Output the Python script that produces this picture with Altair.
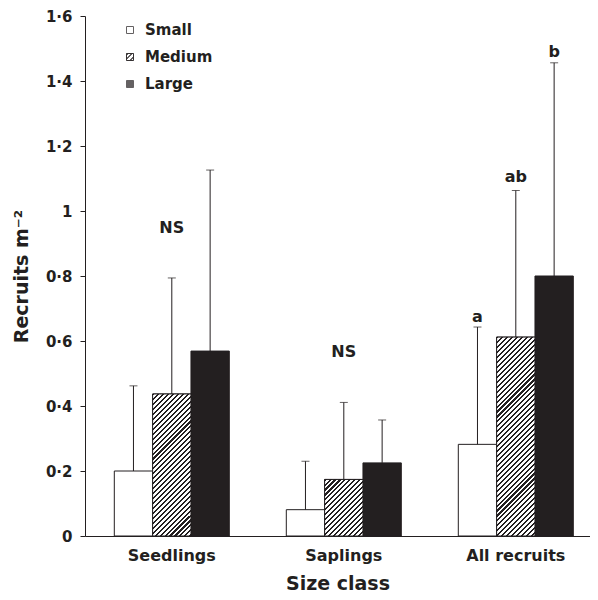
import math
import altair as alt
import pandas as pd

# ---------------- data ----------------
groups = ["Seedlings", "Saplings", "All recruits"]
sizes = ["Small", "Medium", "Large"]

small_mean = [0.200, 0.081, 0.282]
medium_mean = [0.437, 0.174, 0.612]
large_mean = [0.569, 0.225, 0.800]

small_upper = [0.462, 0.230, 0.643]
medium_upper = [0.794, 0.411, 1.063]
large_upper = [1.126, 0.357, 1.456]

ann_group = ["Seedlings", "Saplings", "All recruits", "All recruits", "All recruits"]
ann_size = ["Medium", "Medium", "Small", "Medium", "Large"]
ann_y = [0.932, 0.551, 0.658, 1.089, 1.474]
ann_text = ["NS", "NS", "a", "ab", "b"]

y_ticks = [0, 0.2, 0.4, 0.6, 0.8, 1, 1.2, 1.4, 1.6]

# ---------------- style / layout ----------------
INK = "#231f20"
FONT = "DejaVu Sans"
W, H = 505, 520
YMAX = 1.6
P_IN, P_OUT, ALIGN = 0.3314, 0.1337, 0.637

step = W / (len(groups) - P_IN + 2 * P_OUT)
bar_w = step * (1 - P_IN) / len(sizes)


def hatch(w, h, period=3.5, frac=0.42):
    """Diagonal '/' stripes as a linear gradient in bounding-box units."""
    span = (w + h) / math.sqrt(2)
    n = span / period
    k = (w + h) / (w * w + h * h)
    stops = []
    i = 0
    while i < n:
        a = i / n
        b = min((i + frac) / n, 1.0)
        c = min((i + 1) / n, 1.0)
        stops += [(a, INK), (b, INK), (b, "#ffffff"), (c, "#ffffff")]
        i += 1
    return {
        "gradient": "linear",
        "x1": 0, "y1": 0, "x2": round(w * k, 5), "y2": round(h * k, 5),
        "stops": [{"offset": round(o, 5), "color": col} for o, col in stops],
    }


means = [small_mean, medium_mean, large_mean]
uppers = [small_upper, medium_upper, large_upper]
rows = []
for si, s in enumerate(sizes):
    for gi, g in enumerate(groups):
        rows.append({"group": g, "size": s, "mean": means[si][gi], "upper": uppers[si][gi]})
df = pd.DataFrame(rows)

ann_df = pd.DataFrame({"group": ann_group, "size": ann_size, "y": ann_y, "text": ann_text})
leg_df = pd.DataFrame({"size": sizes})

x_axis = alt.Axis(title="Size class", ticks=False, tickSize=0, labelAngle=0,
                  labelPadding=11, labelFontSize=16, titleFontSize=19, titlePadding=11,
                  domainColor=INK)
x_enc = alt.X("group:N", sort=groups,
              scale=alt.Scale(domain=groups, paddingInner=P_IN, paddingOuter=P_OUT, align=ALIGN),
              axis=x_axis)
xo_enc = alt.XOffset("size:N", scale=alt.Scale(domain=sizes, paddingInner=0, paddingOuter=0))

y_axis = alt.Axis(title="Recruits m⁻²", values=y_ticks, format="~g",
                  labelExpr="replace(datum.label, '.', '·')",
                  tickSize=5, labelPadding=8, labelFontSize=15, titleFontSize=19,
                  titlePadding=14, grid=False)
y_scale = alt.Scale(domain=[0, YMAX], nice=False, zero=True)

fill_scale = alt.Scale(domain=sizes, range=["#ffffff", "#ffffff", INK])

base = alt.Chart(df)

bars = base.mark_bar(stroke=INK, strokeWidth=1).encode(
    x=x_enc, xOffset=xo_enc,
    y=alt.Y("mean:Q", scale=y_scale, axis=y_axis),
    fill=alt.Fill("size:N", scale=fill_scale, legend=None),
)

hatched = []
for gi, g in enumerate(groups):
    hgt = medium_mean[gi] * H / YMAX
    hatched.append(
        base.transform_filter((alt.datum.size == "Medium") & (alt.datum.group == g))
        .mark_bar(fill=hatch(bar_w, hgt), stroke=INK, strokeWidth=1)
        .encode(x=x_enc, xOffset=xo_enc, y=alt.Y("mean:Q", scale=y_scale, axis=y_axis))
    )

err = base.mark_rule(color=INK, strokeWidth=1).encode(
    x=x_enc, xOffset=xo_enc,
    y=alt.Y("mean:Q", scale=y_scale, axis=y_axis), y2="upper:Q",
)
caps = base.mark_tick(color=INK, thickness=1, size=8, orient="horizontal").encode(
    x=x_enc, xOffset=xo_enc, y=alt.Y("upper:Q", scale=y_scale, axis=y_axis),
)
labels = alt.Chart(ann_df).mark_text(
    font=FONT, fontWeight="bold", fontSize=16, baseline="alphabetic", color=INK
).encode(
    x=x_enc, xOffset=xo_enc, y=alt.Y("y:Q", scale=y_scale, axis=y_axis), text="text:N",
)

main = alt.layer(bars, *hatched, err, caps, labels)

leg_y = alt.Y("size:N", sort=sizes,
              scale=alt.Scale(type="point", domain=sizes, range=[14, 68], padding=0),
              axis=None)
leg_sq = alt.Chart(leg_df).mark_square(size=49, stroke=INK, strokeWidth=1, filled=True).encode(
    x=alt.value(45), y=leg_y, fill=alt.Fill("size:N", scale=fill_scale, legend=None),
)
leg_hatch = alt.Chart(leg_df).transform_filter(alt.datum.size == "Medium").mark_square(
    size=49, stroke=INK, strokeWidth=1, filled=True, fill=hatch(7, 7, period=3.3, frac=0.45)
).encode(x=alt.value(45), y=leg_y)
leg_txt = alt.Chart(leg_df).mark_text(
    font=FONT, fontWeight="bold", fontSize=15, align="left", baseline="middle", color=INK
).encode(x=alt.value(60), y=leg_y, text="size:N")

chart = (
    alt.layer(main, leg_sq, leg_hatch, leg_txt)
    .resolve_scale(y="independent")
    .properties(width=W, height=H, autosize="none",
                padding={"left": 77, "top": 8, "right": 0, "bottom": 56})
    .configure(font=FONT)
    .configure_axis(labelFont=FONT, titleFont=FONT, labelFontWeight="bold",
                    titleFontWeight="bold", labelColor=INK, titleColor=INK,
                    domainColor=INK, tickColor=INK, domainWidth=1, tickWidth=1, grid=False)
    .configure_view(stroke=None)
)

chart.save("out.html", embed_options={"renderer": "svg", "actions": False})
